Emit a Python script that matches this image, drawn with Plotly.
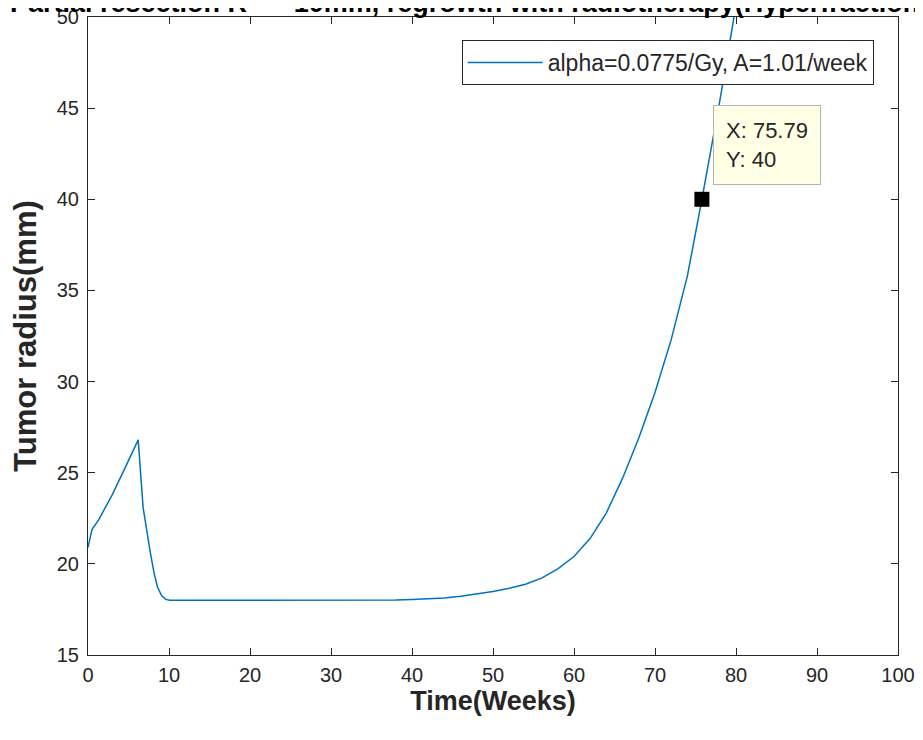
import plotly.graph_objects as go

# ---- data ----
time_weeks = [0, 0.5, 1.3, 3, 4.5, 6.2, 6.8, 7.3, 7.7, 8.2, 8.6, 9.1, 9.6, 10.1,
              15, 20, 30, 38, 40, 42, 44, 46, 48, 50, 52, 54, 56, 58, 60, 62,
              64, 66, 68, 70, 72, 74, 75.79, 77, 78, 79, 80, 81]
radius_mm = [20.9, 21.9, 22.4, 23.8, 25.2, 26.8, 23.1, 21.6, 20.6, 19.4, 18.7, 18.25, 18.05, 18.0,
             18.0, 18.0, 18.0, 18.02, 18.05, 18.08, 18.13, 18.22, 18.33, 18.48, 18.66, 18.88, 19.22, 19.72, 20.4, 21.4,
             22.8, 24.7, 26.9, 29.4, 32.3, 35.8, 40.0, 42.9, 45.4, 48.0, 50.6, 53.3]
series_name = "alpha=0.0775/Gy, A=1.01/week"
tip_x = [75.79]
tip_y = [40]
x_ticks = [0, 10, 20, 30, 40, 50, 60, 70, 80, 90, 100]
y_ticks = [15, 20, 25, 30, 35, 40, 45, 50]
title_text = "Partial resection R = ~10mm, regrowth with radiotherapy(Hyperfractionation)"
x_title = "Time(Weeks)"
y_title = "Tumor radius(mm)"

FONT = "Arial, Liberation Sans, sans-serif"
TXT = "#262626"

fig = go.Figure()
fig.add_trace(go.Scatter(
    x=time_weeks, y=radius_mm, mode="lines", name=series_name,
    line=dict(color="#0072BD", width=1.5),
))
fig.add_trace(go.Scatter(
    x=tip_x, y=tip_y, mode="markers", showlegend=False,
    marker=dict(symbol="square", size=15, color="black", line=dict(width=0)),
))

fig.add_annotation(
    x=tip_x[0], y=tip_y[0], xref="x", yref="y",
    text=f"X: {tip_x[0]}<br>Y: {tip_y[0]}", showarrow=False,
    xanchor="left", yanchor="bottom", xshift=11, yshift=14, align="left",
    font=dict(family=FONT, size=22, color=TXT),
    bgcolor="#FFFFE6", bordercolor="#B4B4B4", borderwidth=1, borderpad=12,
)

fig.add_annotation(
    x=0.5, y=1, xref="paper", yref="paper", text=f"<b>{title_text}</b>",
    showarrow=False, xanchor="center", yanchor="bottom", yshift=-3, xshift=8,
    font=dict(family=FONT, size=27, color="black"),
)

axis_common = dict(
    showline=True, linecolor=TXT, linewidth=1, mirror="ticks",
    ticks="inside", ticklen=7, tickcolor=TXT, tickwidth=1,
    showgrid=False, zeroline=False, ticklabeloverflow="allow",
    tickfont=dict(family=FONT, size=20, color=TXT),
)

fig.update_xaxes(range=[0, 100], tickvals=x_ticks, ticktext=[str(v) for v in x_ticks],
                 title=dict(text=f"<b>{x_title}</b>", font=dict(family=FONT, size=27, color=TXT), standoff=0),
                 ticklabelstandoff=2, **axis_common)
fig.update_yaxes(range=[15, 50], tickvals=y_ticks, ticktext=[str(v) for v in y_ticks],
                 title=dict(text=f"<b>{y_title}</b>", font=dict(family=FONT, size=31, color=TXT), standoff=10),
                 ticklabelstandoff=4, **axis_common)

# page body has an 8px margin: figure is sized/offset so the plot area lands where it does in the reference
fig.update_layout(
    width=907, height=724,
    margin=dict(l=80, r=17, t=9, b=77, autoexpand=False),
    paper_bgcolor="white", plot_bgcolor="white",
    showlegend=True,
    legend=dict(x=0.97, y=0.964, xanchor="right", yanchor="top",
                bgcolor="white", bordercolor=TXT, borderwidth=1,
                font=dict(family=FONT, size=23, color=TXT), itemwidth=75),
)

fig.write_html("out.html")
